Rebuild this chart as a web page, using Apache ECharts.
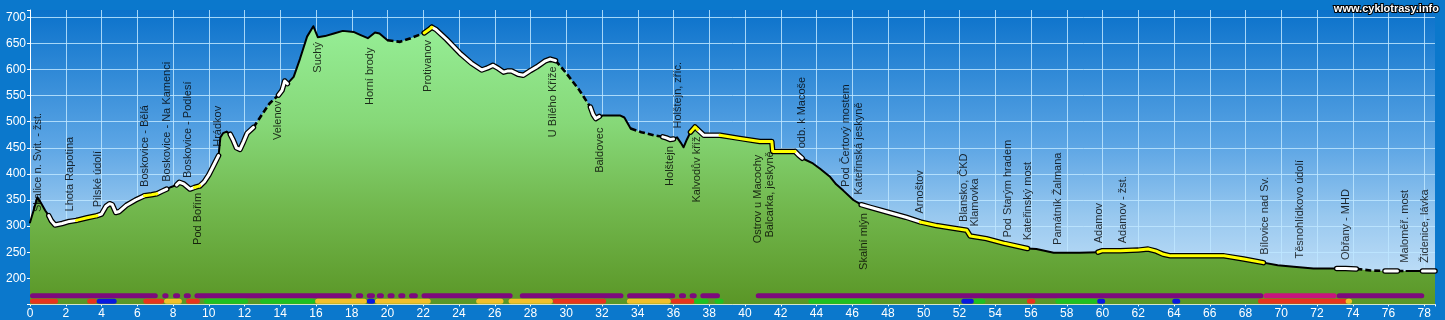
<!DOCTYPE html>
<html>
<head>
<meta charset="utf-8">
<title>Výškový profil</title>
<script src="https://cdn.jsdelivr.net/npm/echarts@6/dist/echarts.min.js"></script>
<style>
  html, body { margin: 0; padding: 0; background: #0b78cc; }
  #chart { width: 1445px; height: 320px; }
</style>
</head>
<body>
<div id="chart"></div>
<script>
// výškový profil trasy: [km, m n. m.]
const profile = [
  [0, 307], [0.2, 330], [0.41, 355], [0.6, 345], [0.85, 330], [1.05, 320],
  [1.2, 310], [1.4, 302], [1.8, 305], [2.2, 309], [2.6, 311],
  [3.2, 316], [3.75, 320],
  [4.0, 323], [4.25, 338], [4.45, 343], [4.6, 341], [4.8, 326], [5.0, 328], [5.4, 340], [5.9, 350], [6.4, 358],
  [6.8, 360], [7.1, 362],
  [7.4, 367], [7.65, 371],
  [7.9, 375], [8.2, 379],
  [8.35, 384], [8.6, 381], [8.95, 371], [9.2, 374],
  [9.5, 377],
  [9.75, 385], [10.0, 398], [10.3, 418], [10.55, 435],
  [10.65, 470], [10.8, 478], [11.0, 481], [11.2, 476],
  [11.35, 466], [11.55, 450], [11.75, 447], [11.95, 462], [12.15, 478], [12.5, 489],
  [13.0, 515], [13.4, 535], [13.9, 551],
  [14.1, 560], [14.25, 578], [14.4, 573],
  [14.75, 586], [15.1, 620], [15.5, 663], [15.85, 683], [16.1, 662], [16.5, 664], [17.0, 669],
  [17.5, 674], [18.1, 672], [18.5, 666], [18.9, 660], [19.3, 671], [19.55, 669], [20.0, 656],
  [20.7, 653], [21.3, 660], [22.05, 670],
  [22.3, 676], [22.48, 681],
  [22.7, 677], [23.3, 658], [24.06, 631], [24.7, 612], [25.27, 599], [25.6, 603], [25.9, 608],
  [26.2, 602], [26.49, 595], [26.7, 597], [26.95, 597], [27.3, 591], [27.6, 589], [28.0, 598],
  [28.35, 605], [28.8, 616], [29.1, 620], [29.4, 617],
  [30.0, 593], [30.7, 562], [31.35, 528],
  [31.5, 514], [31.65, 506], [31.85, 510],
  [32.05, 512], [33.0, 512], [33.1, 515], [33.25, 508], [33.6, 487],
  [34.2, 480], [34.9, 474], [35.4, 471],
  [35.6, 469], [35.8, 466], [36.0, 467],
  [36.2, 470], [36.4, 460], [36.56, 451], [36.75, 466], [36.95, 480],
  [37.2, 490], [37.35, 485],
  [37.7, 474], [38.2, 474], [38.6, 474],
  [39.7, 468], [40.83, 462], [41.5, 462], [41.55, 443], [42.8, 443],
  [43.0, 436], [43.2, 430],
  [43.8, 420], [44.2, 410], [44.77, 394], [45.1, 380], [45.5, 368], [46.06, 350], [46.5, 341],
  [47.0, 336], [47.94, 327], [49.0, 317], [49.8, 308],
  [50.7, 301], [51.67, 296], [52.4, 292], [52.6, 281], [53.5, 276], [54.5, 267], [55.8, 257],
  [56.3, 256], [57.27, 249], [58.7, 249], [59.75, 250],
  [60.0, 253], [61.0, 253], [62.0, 254], [62.55, 256], [63.0, 252], [63.4, 246], [63.8, 243],
  [66.8, 243], [67.9, 237], [69.0, 230],
  [69.8, 225], [70.7, 222], [71.8, 219], [73.1, 219],
  [73.6, 219], [74.2, 218],
  [75.0, 215], [75.8, 214],
  [76.5, 214],
  [77.0, 214],
  [77.9, 214],
  [78.6, 214]
];

// povrch úseků: [od km, do km, typ]  s = plná čára, d = čárkovaná, w = bílá, y = žlutá
const surface = [
  [0, 1.05, 's'], [1.05, 2.6, 'w'], [2.6, 3.75, 'y'], [3.75, 6.4, 'w'], [6.4, 7.1, 'y'],
  [7.1, 7.65, 'w'], [7.65, 8.2, 's'], [8.2, 9.2, 'w'], [9.2, 9.5, 'y'], [9.5, 10.55, 'w'],
  [10.55, 11.2, 's'], [11.2, 12.5, 'w'], [12.5, 13.9, 'd'], [13.9, 14.4, 'w'], [14.4, 20.0, 's'],
  [20.0, 22.05, 'd'], [22.05, 22.48, 'y'], [22.48, 29.4, 'w'], [29.4, 31.35, 'd'], [31.35, 31.85, 'w'],
  [31.85, 33.6, 's'], [33.6, 35.4, 'd'], [35.4, 36.0, 'w'], [36.0, 36.95, 's'], [36.95, 37.35, 'y'],
  [37.35, 38.6, 'w'], [38.6, 42.8, 'y'], [42.8, 43.2, 'w'], [43.2, 46.5, 's'], [46.5, 49.8, 'w'],
  [49.8, 55.8, 'y'], [55.8, 59.75, 's'], [59.75, 69.0, 'y'], [69.0, 73.1, 's'], [73.1, 74.2, 'w'],
  [74.2, 75.8, 'd'], [75.8, 76.5, 'w'], [76.5, 77.0, 'd'], [77.0, 77.9, 's'], [77.9, 78.6, 'w']
];

// místa na trase: [název, km, výška začátku popisku]
const places = [
  ['Skalice n. Svit. - žst.', 0.42, 327],
  ['Lhota Rapotina', 2.25, 328],
  ['Pilské údolí', 3.82, 336],
  ['Boskovice - Bělá', 6.43, 375],
  ['Boskovice - Na Kamenci', 7.65, 385],
  ['Boskovice - Podlesí', 8.86, 392],
  ['Pod Bořím', 9.42, 264],
  ['Hrádkov', 10.53, 452],
  ['Velenov', 13.85, 465],
  ['Suchý', 16.09, 594],
  ['Horní brody', 19.0, 532],
  ['Protivanov', 22.28, 557],
  ['U Bílého Kříže', 29.27, 470],
  ['Baldovec', 31.88, 402],
  ['Holštejn', 35.8, 377],
  ['Holštejn, zříc.', 36.26, 487],
  ['Kalvodův kříž', 37.29, 345],
  ['Ostrov u Macochy', 40.73, 267],
  ['Balcarka, jeskyně', 41.39, 278],
  ['odb. k Macoše', 43.16, 449],
  ['Pod Čertový mostem', 45.64, 375],
  ['Kateřinská jeskyně', 46.38, 360],
  ['Skalní mlýn', 46.64, 216],
  ['Arnoštov', 49.78, 324],
  ['Blansko, ČKD', 52.24, 308],
  ['Klamovka', 52.85, 299],
  ['Pod Starým hradem', 54.72, 278],
  ['Kateřinský most', 55.83, 273],
  ['Památník Žalmana', 57.51, 264],
  ['Adamov', 59.8, 267],
  ['Adamov - žst.', 61.15, 267],
  ['Bílovice nad Sv.', 69.07, 245],
  ['Těsnohlídkovo údolí', 71.03, 238],
  ['Obřany - MHD', 73.64, 235],
  ['Maloměř. most', 76.9, 230],
  ['Židenice, lávka', 78.02, 230]
];

// horní pruh pod profilem: [od km, do km, typ]
const laneTop = [
  [0, 7.15, 'p'], [7.4, 7.75, 'p'], [8.0, 8.4, 'p'], [8.6, 9.0, 'p'], [9.2, 18.0, 'p'],
  [18.23, 18.64, 'p'], [18.84, 19.3, 'p'], [19.4, 19.8, 'p'], [20.0, 20.4, 'p'], [20.6, 21.0, 'p'],
  [21.2, 21.7, 'p'], [21.9, 27.0, 'p'], [27.4, 33.2, 'p'], [33.4, 36.1, 'p'], [36.3, 36.7, 'p'],
  [36.9, 37.3, 'p'], [37.5, 38.6, 'p'], [40.6, 69.0, 'p'], [73.1, 78.0, 'p'], [69.0, 73.1, 'm']
];

// dolní pruh pod profilem: [od km, do km, typ]
const laneBottom = [
  [0, 1.57, 'r'], [3.2, 3.73, 'r'], [3.73, 4.85, 'b'], [6.34, 7.5, 'r'], [7.5, 8.5, 'y'],
  [8.73, 9.5, 'r'], [9.74, 12.2, 'g'], [12.87, 15.95, 'g'], [15.95, 18.84, 'y'], [18.84, 19.3, 'b'],
  [19.3, 22.42, 'y'], [24.96, 26.49, 'y'], [26.49, 26.8, 'r'], [26.77, 29.25, 'y'], [29.25, 32.23, 'r'],
  [33.39, 35.85, 'y'], [35.85, 37.16, 'r'], [37.16, 37.96, 'g'], [38.3, 38.8, 'g'], [41.3, 41.6, 'r'],
  [43.55, 47.1, 'g'], [52.1, 52.8, 'b'], [52.8, 53.45, 'g'], [55.77, 56.24, 'r'], [57.36, 59.7, 'g'],
  [59.7, 60.15, 'b'], [63.9, 64.35, 'b'], [68.7, 73.7, 'r'], [73.6, 73.96, 'y']
];

const laneColors = {
  p: '#7d0a7d', m: '#c8157e', r: '#e8341c', y: '#f2c02a', g: '#20c020', b: '#0818e0'
};

const chart = echarts.init(document.getElementById('chart'));

const KM_PX = 17.88;   // px na km (jen pro zaoblené konce pruhů)
const LANE_W = 5;

// body profilu pro daný typ povrchu, úseky oddělené mezerou
function surfaceData(type) {
  const out = [];
  surface.forEach(([a, b, t]) => {
    if (t !== type) return;
    profile.forEach(p => {
      if (p[0] >= a && p[0] <= b) out.push(p);
    });
    out.push([b, '-']);
  });
  return out;
}

function laneSeries(lanes, y) {
  const byType = {};
  lanes.forEach(([a, b, t]) => {
    const r = LANE_W / 2 / KM_PX;
    let s = a + r, e = b - r;
    if (e < s) { s = e = (a + b) / 2; }
    (byType[t] = byType[t] || []).push([s, y], [e, y], [e, '-']);
  });
  return Object.keys(byType).map(t => ({
    type: 'line',
    data: byType[t],
    symbol: 'none',
    silent: true,
    z: 5,
    lineStyle: { color: laneColors[t], width: LANE_W, cap: 'round' }
  }));
}

function profileLine(data, style, z) {
  return {
    type: 'line',
    data: data,
    symbol: 'none',
    silent: true,
    z: z,
    lineStyle: Object.assign({ cap: 'round', join: 'round' }, style)
  };
}

const paved = surfaceData('w').concat(surfaceData('y'));

const option = {
  backgroundColor: '#0b78cc',
  animation: false,
  grid: {
    left: 30,
    right: 10,
    top: 10,
    bottom: 15.6,
    show: true,
    borderWidth: 0,
    outerBoundsMode: 'none',
    backgroundColor: new echarts.graphic.LinearGradient(0, 0, 0, 1, [
      { offset: 0, color: '#0b72cb' },
      { offset: 0.45, color: '#5aa4e4' },
      { offset: 0.7, color: '#98c8ef' },
      { offset: 1, color: '#d0e8fb' }
    ])
  },
  xAxis: {
    type: 'value',
    min: 0,
    max: 78.6,
    interval: 2,
    axisLine: { show: true, lineStyle: { color: '#ffffff', width: 1 } },
    axisTick: { show: true, length: 2, lineStyle: { color: '#ffffff' } },
    axisLabel: {
      color: '#ffffff',
      fontSize: 12,
      fontFamily: 'Liberation Sans, Arial, sans-serif',
      margin: 3,
      formatter: v => (v % 2 === 0 ? String(v) : '')
    },
    splitLine: {
      show: true,
      showMaxLine: false,
      lineStyle: { color: 'rgba(190,230,255,0.85)', width: 1 }
    }
  },
  yAxis: {
    type: 'value',
    min: 150,
    max: 714,
    interval: 50,
    axisLine: { show: true, lineStyle: { color: '#ffffff', width: 1 } },
    axisTick: { show: true, length: 3, lineStyle: { color: '#ffffff' } },
    axisLabel: {
      color: '#ffffff',
      fontSize: 12,
      fontFamily: 'Liberation Sans, Arial, sans-serif',
      margin: 4,
      formatter: v => (v >= 200 && v <= 700 ? String(v) : '')
    },
    splitLine: {
      show: true,
      showMaxLine: false,
      lineStyle: { color: 'rgba(190,230,255,0.85)', width: 1 }
    }
  },
  graphic: [
    {
      type: 'text',
      right: 5,
      top: 2,
      z: 100,
      style: {
        text: 'www.cyklotrasy.info',
        font: 'bold 11px "Liberation Sans", Arial, sans-serif',
        fill: '#ffffff',
        stroke: '#000000',
        lineWidth: 2
      }
    }
  ],
  series: [
    // plocha terénu
    {
      type: 'line',
      data: profile,
      symbol: 'none',
      silent: true,
      z: 1,
      lineStyle: { width: 0, opacity: 0 },
      areaStyle: {
        opacity: 1,
        color: new echarts.graphic.LinearGradient(0, 0, 0, 1, [
          { offset: 0, color: '#96ee96' },
          { offset: 0.35, color: '#86d878' },
          { offset: 0.65, color: '#72b84e' },
          { offset: 1, color: '#5a9626' }
        ])
      }
    },
    profileLine(surfaceData('s'), { color: '#000000', width: 2 }, 3),
    profileLine(surfaceData('d'), { color: '#000000', width: 2.6, type: [6, 3], cap: 'butt' }, 3),
    profileLine(paved, { color: '#000000', width: 5.5 }, 3),
    profileLine(surfaceData('w'), { color: '#ffffff', width: 3 }, 4),
    profileLine(surfaceData('y'), { color: '#ffff00', width: 3 }, 4),
    ...laneSeries(laneTop, 166.7),
    ...laneSeries(laneBottom, 156),
    // popisky míst
    {
      type: 'scatter',
      data: places.map(p => ({ name: p[0], value: [p[1], p[2]] })),
      symbolSize: 1,
      silent: true,
      z: 10,
      itemStyle: { color: 'rgba(0,0,0,0)' },
      label: {
        show: true,
        position: 'inside',
        rotate: 90,
        align: 'left',
        verticalAlign: 'middle',
        color: '#000000',
        fontSize: 11,
        fontFamily: 'Liberation Sans, Arial, sans-serif',
        formatter: '{b}'
      },
      labelLayout: { hideOverlap: false }
    }
  ]
};

chart.setOption(option);
</script>
</body>
</html>
